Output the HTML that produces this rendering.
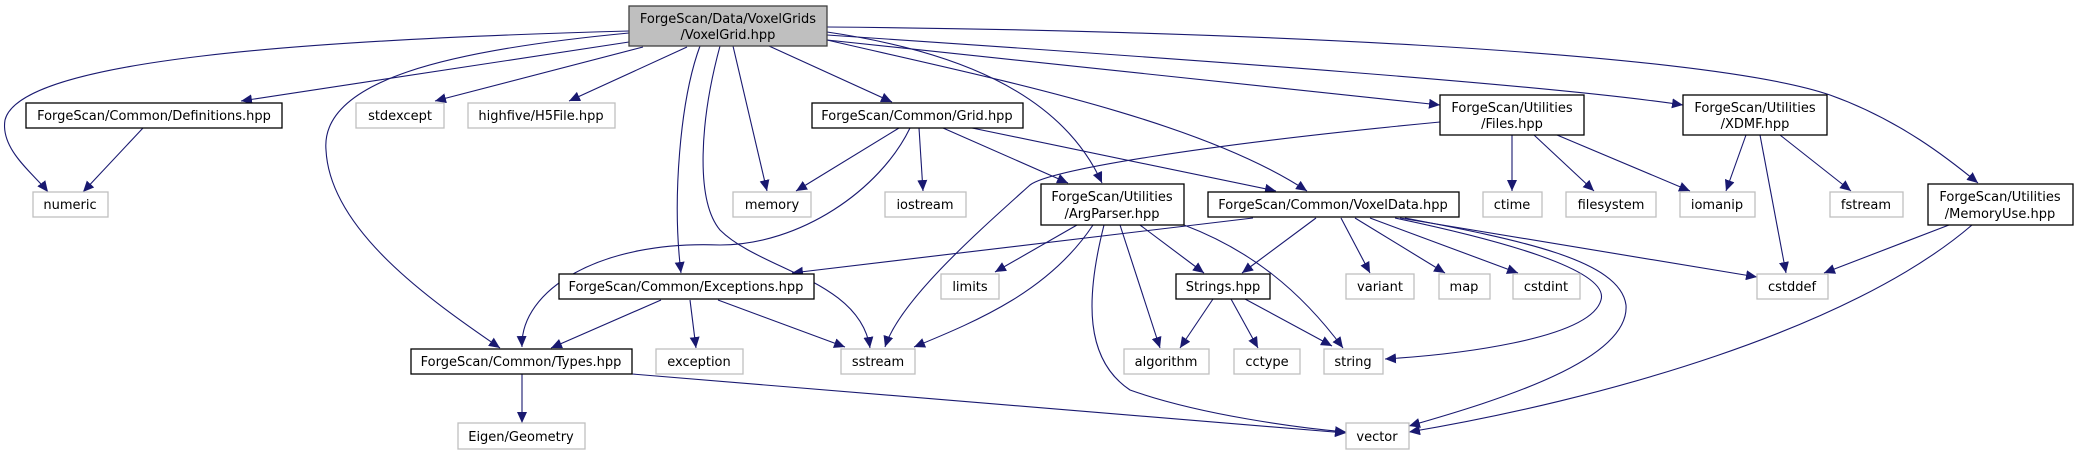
<!DOCTYPE html>
<html><head><meta charset="utf-8"><style>
html,body{margin:0;padding:0;background:#fff;}
svg{display:block;}
text{font-family:"DejaVu Sans","Liberation Sans",sans-serif;font-size:13px;fill:#000;}
.n{fill:#fff;stroke:#000;stroke-width:1.3;}
.x{fill:#fff;stroke:#bfbfbf;stroke-width:1.3;}
.e{fill:none;stroke:#191970;stroke-width:1.1;marker-end:url(#a);}
</style></head><body>
<svg width="2078" height="455" viewBox="0 0 2078 455" xmlns="http://www.w3.org/2000/svg">
<defs><marker id="a" markerUnits="userSpaceOnUse" markerWidth="12" markerHeight="10" refX="11" refY="5" orient="auto"><path d="M0,0 L11,5 L0,10 z" fill="#191970"/></marker></defs>

<!-- edges -->
<path class="e" d="M629,31 C300,40 20,60 5,120 C0,150 35,175 48,192"/>
<path class="e" d="M629,42 L241,101"/>
<path class="e" d="M629,33 C450,50 320,80 326,150 C330,230 430,300 500,348"/>
<path class="e" d="M643,47 L435,101"/>
<path class="e" d="M687,47 L569,101"/>
<path class="e" d="M700,46 C680,100 672,200 681,273"/>
<path class="e" d="M720,46 C700,120 695,200 720,230 C760,270 860,280 870,348"/>
<path class="e" d="M733,46 L767,191"/>
<path class="e" d="M769,46 L892,102"/>
<path class="e" d="M827,32 C950,50 1060,90 1102,183"/>
<path class="e" d="M827,40 C1000,80 1200,120 1307,191"/>
<path class="e" d="M827,27 C1200,30 1700,50 1830,95 C1900,120 1950,160 1978,183"/>
<path class="e" d="M827,35 C1200,60 1550,85 1683,105"/>
<path class="e" d="M827,40 C1100,70 1350,95 1440,105"/>

<path class="e" d="M910,128 C880,190 800,245 720,245 C600,240 520,290 522,347"/>
<path class="e" d="M899,128 L796,191"/>
<path class="e" d="M919,128 L923,191"/>
<path class="e" d="M943,128 L1068,183"/>
<path class="e" d="M972,128 L1276,191"/>

<path class="e" d="M1440,122 C1200,145 1050,170 1030,185 C980,230 900,300 885,347"/>
<path class="e" d="M1512,135 L1512,191"/>
<path class="e" d="M1534,135 L1594,191"/>
<path class="e" d="M1557,135 L1690,191"/>
<path class="e" d="M1746,135 L1726,191"/>
<path class="e" d="M1760,135 L1786,273"/>
<path class="e" d="M1780,135 L1851,191"/>
<path class="e" d="M1949,225 L1824,273"/>
<path class="e" d="M1972,225 C1850,330 1600,400 1409,432"/>

<path class="e" d="M1253,218 L792,273"/>
<path class="e" d="M1316,218 L1242,273"/>
<path class="e" d="M1341,218 L1370,273"/>
<path class="e" d="M1355,218 L1445,273"/>
<path class="e" d="M1370,218 L1518,273"/>
<path class="e" d="M1400,218 L1757,277"/>
<path class="e" d="M1395,218 C1500,240 1610,270 1601,300 C1590,340 1450,355 1385,359"/>
<path class="e" d="M1405,218 C1520,240 1620,260 1626,305 C1630,360 1500,400 1409,426"/>

<path class="e" d="M1077,225 L995,272"/>
<path class="e" d="M1093,225 C1050,290 980,320 914,347"/>
<path class="e" d="M1104,225 C1085,300 1085,360 1130,390 C1200,415 1300,428 1346,432"/>
<path class="e" d="M1120,225 L1160,348"/>
<path class="e" d="M1140,225 L1204,273"/>
<path class="e" d="M1184,225 C1250,250 1300,290 1343,348"/>

<path class="e" d="M1213,299 L1180,348"/>
<path class="e" d="M1231,299 L1258,348"/>
<path class="e" d="M1245,299 L1332,346"/>

<path class="e" d="M661,300 L551,348"/>
<path class="e" d="M690,300 L696,348"/>
<path class="e" d="M718,300 L845,347"/>
<path class="e" d="M632,374 L1346,433"/>
<path class="e" d="M143,128 L83,192"/>
<path class="e" d="M522,374 L522,423"/>

<!-- nodes -->
<rect x="629" y="6" width="198" height="40" fill="#bfbfbf" stroke="#404040" stroke-width="1.3"/>
<text x="728" y="23" text-anchor="middle">ForgeScan/Data/VoxelGrids</text>
<text x="728" y="39" text-anchor="middle">/VoxelGrid.hpp</text>

<rect class="n" x="26" y="103" width="256" height="25"/><text x="154" y="120" text-anchor="middle">ForgeScan/Common/Definitions.hpp</text>
<rect class="x" x="33" y="192" width="75" height="25"/><text x="70" y="209" text-anchor="middle">numeric</text>
<rect class="x" x="356" y="103" width="88" height="25"/><text x="400" y="120" text-anchor="middle">stdexcept</text>
<rect class="x" x="468" y="103" width="147" height="25"/><text x="541" y="120" text-anchor="middle">highfive/H5File.hpp</text>
<rect class="n" x="812" y="103" width="211" height="25"/><text x="917" y="120" text-anchor="middle">ForgeScan/Common/Grid.hpp</text>
<rect class="n" x="1440" y="95" width="144" height="40"/><text x="1512" y="112" text-anchor="middle">ForgeScan/Utilities</text><text x="1512" y="128" text-anchor="middle">/Files.hpp</text>
<rect class="n" x="1683" y="95" width="144" height="40"/><text x="1755" y="112" text-anchor="middle">ForgeScan/Utilities</text><text x="1755" y="128" text-anchor="middle">/XDMF.hpp</text>

<rect class="x" x="733" y="192" width="78" height="25"/><text x="772" y="209" text-anchor="middle">memory</text>
<rect class="x" x="885" y="192" width="81" height="25"/><text x="925" y="209" text-anchor="middle">iostream</text>
<rect class="n" x="1041" y="184" width="143" height="41"/><text x="1112" y="201" text-anchor="middle">ForgeScan/Utilities</text><text x="1112" y="218" text-anchor="middle">/ArgParser.hpp</text>
<rect class="n" x="1208" y="192" width="251" height="25"/><text x="1333" y="209" text-anchor="middle">ForgeScan/Common/VoxelData.hpp</text>
<rect class="x" x="1483" y="192" width="59" height="25"/><text x="1512" y="209" text-anchor="middle">ctime</text>
<rect class="x" x="1566" y="192" width="90" height="25"/><text x="1611" y="209" text-anchor="middle">filesystem</text>
<rect class="x" x="1680" y="192" width="75" height="25"/><text x="1717" y="209" text-anchor="middle">iomanip</text>
<rect class="x" x="1830" y="192" width="73" height="25"/><text x="1866" y="209" text-anchor="middle">fstream</text>
<rect class="n" x="1928" y="184" width="145" height="41"/><text x="2000" y="201" text-anchor="middle">ForgeScan/Utilities</text><text x="2000" y="218" text-anchor="middle">/MemoryUse.hpp</text>

<rect class="n" x="559" y="274" width="255" height="25"/><text x="686" y="291" text-anchor="middle">ForgeScan/Common/Exceptions.hpp</text>
<rect class="x" x="941" y="274" width="58" height="25"/><text x="970" y="291" text-anchor="middle">limits</text>
<rect class="n" x="1176" y="274" width="94" height="25"/><text x="1223" y="291" text-anchor="middle">Strings.hpp</text>
<rect class="x" x="1346" y="274" width="68" height="25"/><text x="1380" y="291" text-anchor="middle">variant</text>
<rect class="x" x="1439" y="274" width="51" height="25"/><text x="1464" y="291" text-anchor="middle">map</text>
<rect class="x" x="1513" y="274" width="67" height="25"/><text x="1546" y="291" text-anchor="middle">cstdint</text>
<rect class="x" x="1757" y="274" width="71" height="25"/><text x="1792" y="291" text-anchor="middle">cstddef</text>

<rect class="n" x="411" y="349" width="221" height="25"/><text x="521" y="366" text-anchor="middle">ForgeScan/Common/Types.hpp</text>
<rect class="x" x="656" y="349" width="87" height="25"/><text x="699" y="366" text-anchor="middle">exception</text>
<rect class="x" x="841" y="349" width="74" height="25"/><text x="878" y="366" text-anchor="middle">sstream</text>
<rect class="x" x="1124" y="349" width="85" height="25"/><text x="1166" y="366" text-anchor="middle">algorithm</text>
<rect class="x" x="1234" y="349" width="66" height="25"/><text x="1267" y="366" text-anchor="middle">cctype</text>
<rect class="x" x="1324" y="349" width="59" height="25"/><text x="1353" y="366" text-anchor="middle">string</text>

<rect class="x" x="458" y="423" width="127" height="26"/><text x="521" y="441" text-anchor="middle">Eigen/Geometry</text>
<rect class="x" x="1346" y="423" width="63" height="26"/><text x="1377" y="441" text-anchor="middle">vector</text>
</svg>
</body></html>
